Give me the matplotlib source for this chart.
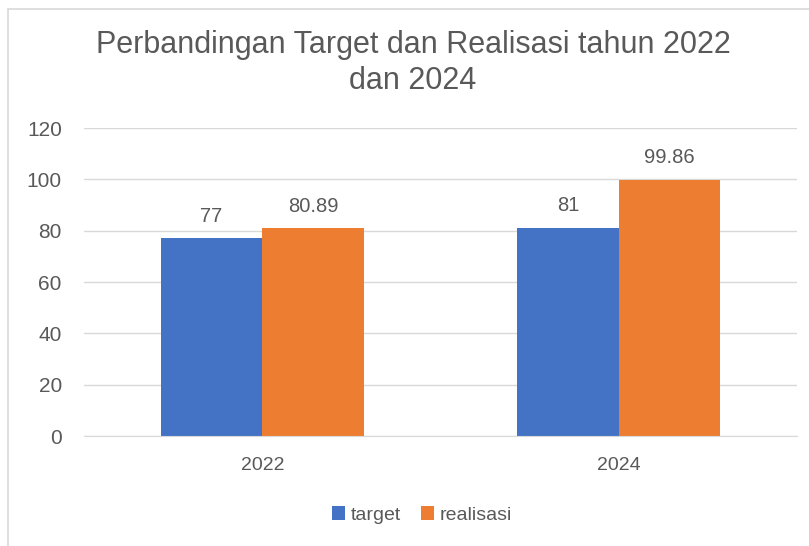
import matplotlib.pyplot as plt
from matplotlib.patches import Rectangle
import numpy as np

plt.rcParams['font.family'] = ['Liberation Sans', 'DejaVu Sans']

# Data
years = ['2022', '2024']
target = [77, 81]
realisasi = [80.89, 99.86]
target_labels = ['77', '81']
realisasi_labels = ['80.89', '99.86']

blue = '#4472C4'
orange = '#ED7D31'
textcol = '#595959'

fig = plt.figure(figsize=(8.09, 5.46), dpi=100)

# chart frame (cropped at right and bottom in the reference)
fig.patches.append(Rectangle((8 / 809, -0.1), 1.2, 1 - 9 / 546 + 0.1, transform=fig.transFigure,
                             fill=False, edgecolor='#d9d9d9', linewidth=1.2))

ax = fig.add_axes([84 / 809, 110 / 546, (797 - 84) / 809, (436 - 128) / 546])

x = np.arange(len(years))
w = 0.285
b1 = ax.bar(x - w / 2, target, w, color=blue, label='target')
b2 = ax.bar(x + w / 2, realisasi, w, color=orange, label='realisasi')

for bars, labs in ((b1, target_labels), (b2, realisasi_labels)):
    for bar, lab in zip(bars, labs):
        ax.text(bar.get_x() + bar.get_width() / 2, bar.get_height() + 5, lab,
                ha='center', va='bottom', fontsize=14.5, color=textcol)

ax.set_xlim(-0.5, 1.5)
ax.set_ylim(0, 120)
ax.set_yticks(range(0, 121, 20))
ax.set_xticks(x)
ax.set_xticklabels(years)
ax.grid(axis='y', color='#d9d9d9', linewidth=1)
ax.set_axisbelow(True)
for s in ['top', 'right', 'left']:
    ax.spines[s].set_visible(False)
ax.spines['bottom'].set_color('#d9d9d9')
ax.tick_params(axis='both', length=0, labelcolor=textcol)
ax.tick_params(axis='x', pad=15, labelsize=14)
ax.tick_params(axis='y', pad=16, labelsize=15)

fig.text(413 / 809, 1 - 63 / 546, 'Perbandingan Target dan Realisasi tahun 2022\ndan 2024',
         ha='center', va='center', fontsize=22, color=textcol, linespacing=1.3)

fig.legend(handles=[b1, b2], loc='center', bbox_to_anchor=(422 / 809, 1 - 515 / 546), ncol=2,
           frameon=False, fontsize=14, labelcolor=textcol, handlelength=0.7, handleheight=0.7,
           handletextpad=0.3, columnspacing=1.0)

plt.savefig('out.png', dpi=100)
